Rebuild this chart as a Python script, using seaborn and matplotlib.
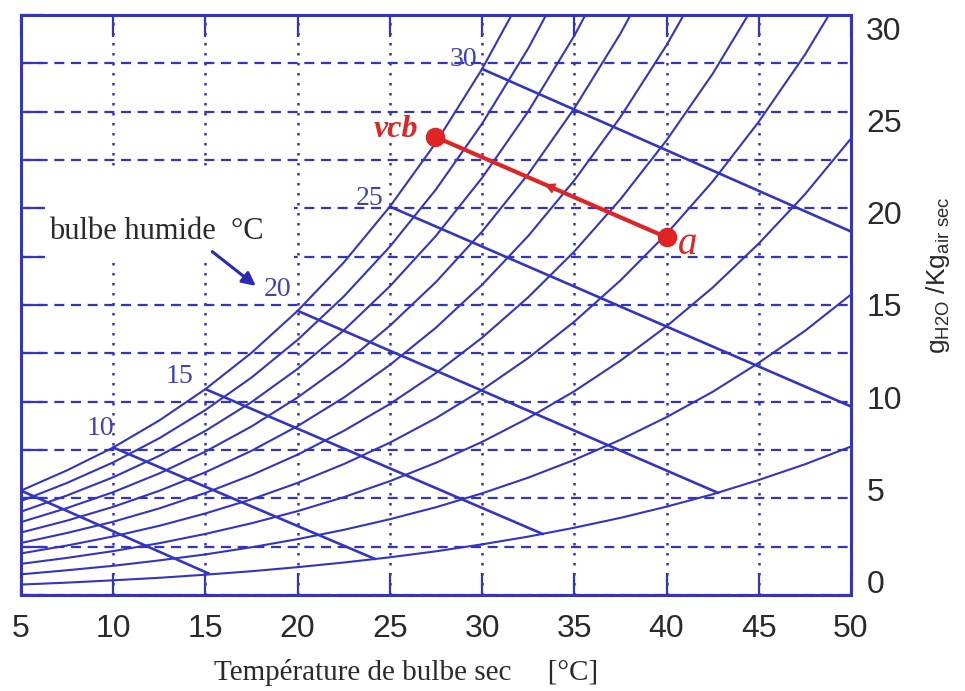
import matplotlib
matplotlib.use("Agg")
import matplotlib.pyplot as plt
from matplotlib import font_manager
from matplotlib.patches import Rectangle
import numpy as np
import pandas as pd
import seaborn as sns

# ---------------- data ----------------
T_GRID = [5, 7.5, 10, 12.5, 15, 17.5, 20, 22.5, 25, 27.5, 30,
          32.5, 35, 37.5, 40, 42.5, 45, 47.5, 50]

rh_100 = [5.40, 6.45, 7.63, 9.03, 10.65, 12.53, 14.70, 17.20, 20.09, 23.40, 27.21, 31.57]
rh_090 = [4.86, 5.80, 6.86, 8.11, 9.57, 11.25, 13.20, 15.44, 18.02, 20.98, 24.38, 28.27, 32.73]
rh_080 = [4.31, 5.15, 6.09, 7.20, 8.49, 9.98, 11.70, 13.69, 15.97, 18.58, 21.58, 25.01, 28.93, 33.41]
rh_070 = [3.77, 4.50, 5.32, 6.29, 7.42, 8.72, 10.22, 11.94, 13.93, 16.19, 18.80, 21.77, 25.17,
          29.04, 33.44]
rh_060 = [3.23, 3.85, 4.56, 5.39, 6.35, 7.46, 8.74, 10.21, 11.90, 13.83, 16.05, 18.57, 21.45,
          24.72, 28.44, 32.64]
rh_050 = [2.69, 3.21, 3.79, 4.48, 5.28, 6.20, 7.26, 8.49, 9.88, 11.48, 13.31, 15.40, 17.77,
          20.47, 23.52, 26.96, 30.91]
rh_040 = [2.15, 2.56, 3.03, 3.58, 4.22, 4.95, 5.80, 6.77, 7.88, 9.15, 10.61, 12.26, 14.14,
          16.27, 18.68, 21.39, 24.48, 27.94, 31.89]
rh_030 = [1.61, 1.92, 2.27, 2.68, 3.16, 3.71, 4.34, 5.06, 5.89, 6.84, 7.92, 9.15, 10.54,
          12.12, 13.90, 15.90, 18.18, 20.72, 23.61]
rh_020 = [1.07, 1.28, 1.51, 1.79, 2.10, 2.47, 2.89, 3.37, 3.92, 4.54, 5.26, 6.07, 6.99,
          8.03, 9.20, 10.51, 12.01, 13.66, 15.54]
rh_010 = [0.54, 0.64, 0.76, 0.89, 1.05, 1.23, 1.44, 1.68, 1.95, 2.26, 2.62, 3.02, 3.48,
          3.99, 4.57, 5.21, 5.95, 6.76, 7.68]
RH_CURVES = {"100": rh_100, "90": rh_090, "80": rh_080, "70": rh_070, "60": rh_060,
             "50": rh_050, "40": rh_040, "30": rh_030, "20": rh_020, "10": rh_010}

# wet-bulb lines: start on the saturation curve, end on the 10 % curve / right edge
wb_names   = ["5", "10", "15", "20", "25", "30"]
wb_start_T = [5, 10, 15, 20, 25, 30]
wb_start_w = [5.40, 7.63, 10.65, 14.70, 20.09, 27.21]
wb_end_T   = [15.2, 24.2, 33.3, 42.8, 50.0, 50.0]
wb_end_w   = [1.10, 1.86, 3.15, 5.28, 9.75, 18.8]

# wet-bulb labels
wb_label_text = ["10", "15", "20", "25", "30"]
wb_label_T    = [9.3, 13.6, 18.9, 23.9, 29.0]
wb_label_w    = [8.6, 11.3, 15.8, 20.5, 27.7]

# process line a -> vcb
process_T = [40.0, 27.45]
process_w = [18.5, 23.7]
process_names = ["a", "vcb"]

X_TICKS = [5, 10, 15, 20, 25, 30, 35, 40, 45, 50]
Y_TICKS = [0, 5, 10, 15, 20, 25, 30]
Y_MINOR = [2.5, 7.5, 12.5, 17.5, 22.5, 27.5]

# ---------------- style ----------------
BLUE = "#3434c4"
RED = "#e02424"
TXT = "#2a2a2a"

sns.set_style("white")
avail = {f.name for f in font_manager.fontManager.ttflist}
SANS = "Liberation Sans" if "Liberation Sans" in avail else "DejaVu Sans"
SERIF = "Liberation Serif" if "Liberation Serif" in avail else "DejaVu Serif"
plt.rcParams["font.family"] = [SANS, "DejaVu Sans"]
plt.rcParams["mathtext.fontset"] = "custom"
plt.rcParams["mathtext.rm"] = SANS

fig = plt.figure(figsize=(9.65, 6.91), dpi=100)
ax = fig.add_axes([21 / 965, 1 - 595 / 691, 830 / 965, 580 / 691])

# ---------------- curves ----------------
rows = []
for name, vals in RH_CURVES.items():
    for t, w in zip(T_GRID, vals):
        rows.append({"T": t, "w": w, "curve": name})
rh_df = pd.DataFrame(rows)
sns.lineplot(data=rh_df, x="T", y="w", units="curve", estimator=None, sort=False,
             color=BLUE, lw=1.5, ax=ax, legend=False, zorder=3)

wb_rows = []
for n, t0, w0, t1, w1 in zip(wb_names, wb_start_T, wb_start_w, wb_end_T, wb_end_w):
    wb_rows.append({"T": t0, "w": w0, "wb": n})
    wb_rows.append({"T": t1, "w": w1, "wb": n})
wb_df = pd.DataFrame(wb_rows)
sns.lineplot(data=wb_df, x="T", y="w", units="wb", estimator=None, sort=False,
             color=BLUE, lw=1.9, ax=ax, legend=False, zorder=3)

for txt, t, w in zip(wb_label_text, wb_label_T, wb_label_w):
    ax.text(t, w, txt, color="#4040b8", fontsize=20, family=SERIF,
            ha="center", va="center", zorder=4)

# process line
proc_df = pd.DataFrame({"T": process_T, "w": process_w})
sns.lineplot(data=proc_df, x="T", y="w", sort=False, color=RED, lw=3, ax=ax,
             legend=False, zorder=5)
sns.scatterplot(data=proc_df, x="T", y="w", color=RED, s=170, edgecolor=RED,
                ax=ax, legend=False, zorder=6)
mid_T = process_T[0] + 0.5 * (process_T[1] - process_T[0])
mid_w = process_w[0] + 0.5 * (process_w[1] - process_w[0])
dT = process_T[1] - process_T[0]
dw = process_w[1] - process_w[0]
ax.annotate("", xy=(mid_T + 0.04 * dT, mid_w + 0.04 * dw),
            xytext=(mid_T - 0.04 * dT, mid_w - 0.04 * dw),
            arrowprops=dict(arrowstyle="-|>", color=RED, lw=0, mutation_scale=20),
            zorder=6)
ax.text(process_T[0] + 0.6, process_w[0] - 0.35, process_names[0], color=RED,
        fontsize=28, family=SERIF, style="italic", ha="left", va="center", zorder=6)
ax.text(process_T[1] - 0.9, process_w[1] + 0.4, process_names[1], color=RED,
        fontsize=23, family=SERIF, style="italic", weight="bold",
        ha="right", va="center", zorder=6)

# "bulbe humide" note with white background
ax.add_patch(Rectangle((6.3, 17.2), 13.5, 4.9, facecolor="white", edgecolor="none",
                       zorder=1.5))
ax.text(6.5, 18.8, "bulbe humide  °C", color=TXT, fontsize=22, family=SERIF,
        ha="left", va="center", zorder=4)
ax.annotate("", xy=(17.85, 15.9), xytext=(15.25, 17.85),
            arrowprops=dict(arrowstyle="-|>", color="#2a2ab8", lw=2.2,
                            mutation_scale=20), zorder=4)

# ---------------- axes ----------------
ax.set_xlim(5, 50)
ax.set_ylim(0, 30)
ax.set_xticks(X_TICKS)
ax.set_yticks(Y_TICKS)
ax.set_yticks(Y_MINOR, minor=True)
ax.set_xticklabels([str(v) for v in X_TICKS])
ax.set_axisbelow(True)
ax.grid(axis="x", which="major", color=BLUE, lw=1.8, linestyle=(0, (1, 3)))
ax.grid(axis="y", which="both", color=BLUE, lw=1.6, linestyle=(0, (4.5, 3)))
ax.tick_params(axis="both", which="both", direction="in", length=16, width=1.6,
               color=BLUE, top=True, right=True, left=True, bottom=True,
               labelleft=False, labelright=False, labelcolor=TXT, labelsize=23)
ax.tick_params(axis="x", pad=14)
for sp in ax.spines.values():
    sp.set_color(BLUE)
    sp.set_linewidth(2.2)
ax.set_xlabel("")
ax.set_ylabel("")

# right-hand value labels (slightly compressed spacing as in the original scan)
ax2 = ax.twinx()
ax2.set_ylim(-0.704, 30.704)
ax2.set_yticks(Y_TICKS)
ax2.set_yticklabels([str(v) for v in Y_TICKS])
ax2.tick_params(axis="y", length=0, pad=11, labelsize=23, labelcolor=TXT)
for sp in ax2.spines.values():
    sp.set_visible(False)
ax2.set_ylabel("")

fig.text(406 / 965, 1 - 673 / 691, "Température de bulbe sec     [°C]", color=TXT,
         fontsize=21, family=SERIF, ha="center", va="center")
fig.text(938 / 965, 1 - 275 / 691, r"g$_{\mathrm{H2O}}$ /Kg$_{\mathrm{ air\ sec}}$",
         color=TXT, fontsize=19, rotation=90, ha="center", va="center")

fig.savefig("out.png", dpi=100, facecolor="white")
